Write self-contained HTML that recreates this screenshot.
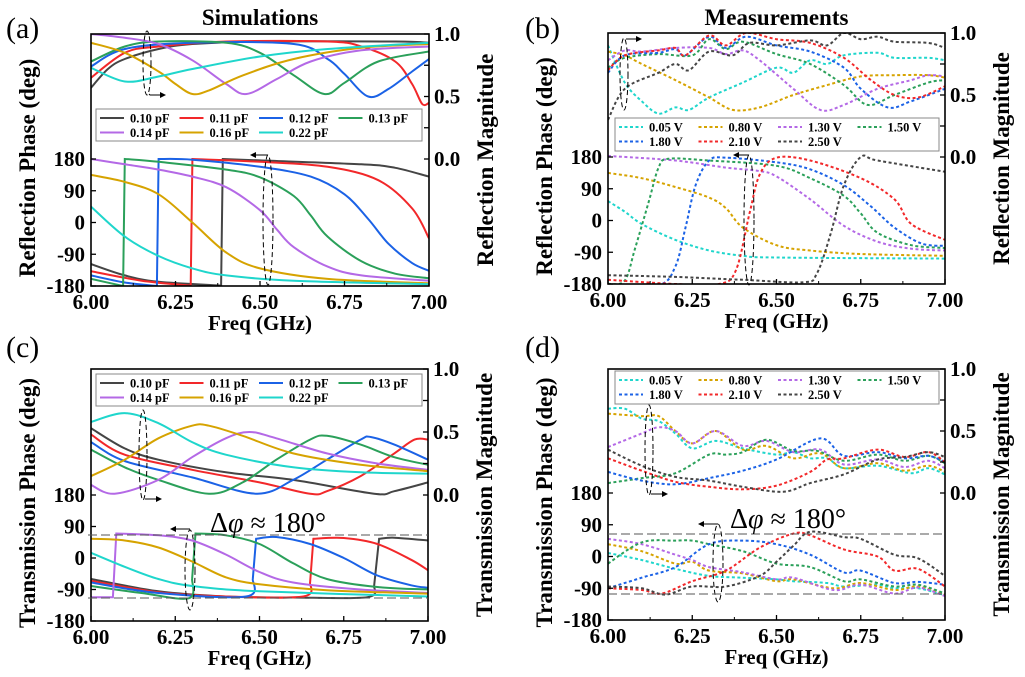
<!DOCTYPE html>
<html><head><meta charset="utf-8"><style>
html,body{margin:0;padding:0;background:#fff;}
svg{display:block;font-family:"Liberation Serif",serif;}
</style></head><body>
<svg id="fig" width="1025" height="677" viewBox="0 0 1025 677" xmlns="http://www.w3.org/2000/svg"></svg>
<script>
// ---- shared tick labels ----
const xTicks=[6.00,6.25,6.50,6.75,7.00];
const phaseTicks=[180,90,0,-90,-180];
const magTicks=[0.0,0.5,1.0];
const simLabels=["0.10 pF","0.11 pF","0.12 pF","0.13 pF","0.14 pF","0.16 pF","0.22 pF"];
const measLabels=["0.05 V","0.80 V","1.30 V","1.50 V","1.80 V","2.10 V","2.50 V"];
const simColors=["#454545","#f2282a","#1b62e6","#2ba05a","#b469e6","#d6a300","#1fd6cc"];
const measColors=["#1fd6cc","#d6a300","#b469e6","#2ba05a","#1b62e6","#f2282a","#454545"];

// ---- (a) simulated reflection: magnitude ----
const a_mag_010=[[6,.57],[6.05,.72],[6.1,.8],[6.2,.88],[6.3,.92],[6.5,.94],[6.9,.94],[7,.93]];
const a_mag_011=[[6,.65],[6.1,.85],[6.2,.9],[6.4,.94],[6.7,.94],[6.8,.9],[6.9,.78],[6.95,.6],[6.98,.44],[7,.45]];
const a_mag_012=[[6,.74],[6.1,.88],[6.3,.93],[6.6,.92],[6.7,.8],[6.75,.68],[6.82,.5],[6.88,.56],[6.95,.7],[7,.8]];
const a_mag_013=[[6,.78],[6.1,.9],[6.2,.94],[6.4,.93],[6.5,.85],[6.6,.67],[6.69,.52],[6.75,.61],[6.85,.78],[7,.86]];
const a_mag_014=[[6,1],[6.1,.97],[6.2,.92],[6.3,.79],[6.4,.6],[6.46,.52],[6.55,.64],[6.65,.78],[6.8,.87],[7,.9]];
const a_mag_016=[[6,.93],[6.1,.85],[6.2,.7],[6.25,.6],[6.3,.52],[6.35,.55],[6.45,.67],[6.6,.8],[6.8,.89],[7,.92]];
const a_mag_022=[[6,.73],[6.1,.62],[6.2,.66],[6.3,.72],[6.5,.82],[6.7,.88],[7,.93]];
// ---- (a) simulated reflection: phase ----
const a_ph_010=[[6,-118],[6.1,-150],[6.2,-168],[6.385,-179],[6.39,180],[6.5,176],[6.8,165],[6.9,155],[7,130]];
const a_ph_011=[[6,-138],[6.15,-165],[6.295,-179],[6.3,180],[6.5,172],[6.7,158],[6.85,120],[6.95,40],[7,-45]];
const a_ph_012=[[6,-150],[6.1,-170],[6.195,-180],[6.2,180],[6.3,178],[6.5,158],[6.65,130],[6.75,80],[6.82,10],[6.88,-60],[6.95,-115],[7,-137]];
const a_ph_013=[[6,-160],[6.095,-180],[6.1,180],[6.2,172],[6.4,150],[6.5,128],[6.6,75],[6.65,20],[6.7,-40],[6.8,-110],[6.9,-145],[7,-158]];
const a_ph_014=[[6,180],[6.1,165],[6.2,150],[6.3,130],[6.4,100],[6.5,35],[6.55,-20],[6.6,-70],[6.7,-125],[6.8,-150],[7,-165]];
const a_ph_016=[[6,135],[6.1,115],[6.2,80],[6.3,0],[6.4,-85],[6.5,-130],[6.7,-160],[7,-172]];
const a_ph_022=[[6,45],[6.1,-40],[6.2,-95],[6.3,-130],[6.4,-150],[6.6,-165],[7,-175]];

// ---- (b) measured reflection: magnitude ----
const b_mag_005=[[6,.9],[6.05,.6],[6.1,.45],[6.15,.35],[6.2,.4],[6.24,.38],[6.3,.48],[6.4,.6],[6.5,.72],[6.55,.68],[6.6,.78],[6.65,.75],[6.7,.82],[6.8,.84],[6.85,.8],[6.95,.8],[7,.78]];
const b_mag_080=[[6,.85],[6.05,.82],[6.1,.75],[6.2,.62],[6.3,.48],[6.37,.38],[6.45,.4],[6.55,.5],[6.65,.58],[6.75,.65],[6.85,.66],[6.95,.66],[7,.64]];
const b_mag_130=[[6,.78],[6.05,.86],[6.1,.85],[6.2,.88],[6.3,.88],[6.35,.83],[6.4,.86],[6.45,.78],[6.55,.55],[6.63,.38],[6.7,.42],[6.8,.55],[6.9,.62],[6.95,.66],[7,.65]];
const b_mag_150=[[6,.72],[6.05,.8],[6.15,.83],[6.25,.82],[6.3,.95],[6.35,.87],[6.4,.93],[6.5,.83],[6.6,.75],[6.7,.58],[6.77,.42],[6.85,.5],[6.95,.6],[7,.62]];
const b_mag_180=[[6,.68],[6.05,.82],[6.15,.84],[6.2,.87],[6.23,.82],[6.3,.97],[6.35,.88],[6.41,.97],[6.5,.9],[6.6,.85],[6.7,.72],[6.75,.55],[6.83,.4],[6.9,.45],[7,.55]];
const b_mag_210=[[6,.7],[6.05,.82],[6.15,.86],[6.2,.88],[6.23,.82],[6.3,.98],[6.35,.9],[6.41,1],[6.5,.95],[6.6,.92],[6.7,.8],[6.78,.62],[6.85,.5],[6.92,.48],[7,.57]];
const b_mag_250=[[6,.3],[6.05,.55],[6.15,.68],[6.2,.75],[6.24,.7],[6.3,.85],[6.37,.82],[6.42,.92],[6.5,.9],[6.6,.94],[6.65,.9],[6.7,1],[6.75,.95],[6.8,.97],[6.85,.93],[6.95,.92],[7,.88]];
// ---- (b) measured reflection: phase ----
const b_ph_005=[[6,55],[6.05,25],[6.1,-10],[6.2,-55],[6.3,-85],[6.4,-100],[6.5,-105],[7,-108]];
const b_ph_080=[[6,135],[6.1,120],[6.2,95],[6.3,65],[6.35,35],[6.4,-20],[6.5,-70],[6.6,-85],[6.75,-95],[7,-100]];
const b_ph_130=[[6,183],[6.2,170],[6.35,150],[6.45,140],[6.5,125],[6.6,60],[6.7,-15],[6.8,-60],[6.9,-80],[7,-85]];
const b_ph_150=[[6,-180],[6.05,-170],[6.08,-80],[6.12,50],[6.15,150],[6.18,175],[6.3,170],[6.5,155],[6.6,120],[6.7,70],[6.75,20],[6.8,-35],[6.9,-70],[7,-78]];
const b_ph_180=[[6,-183],[6.15,-183],[6.2,-130],[6.23,-20],[6.26,100],[6.3,170],[6.35,178],[6.5,165],[6.6,145],[6.7,100],[6.78,40],[6.85,-20],[6.93,-65],[7,-72]];
const b_ph_210=[[6,-168],[6.2,-180],[6.33,-180],[6.38,-140],[6.42,20],[6.45,130],[6.5,178],[6.6,170],[6.75,120],[6.85,60],[6.9,-10],[7,-55]];
const b_ph_250=[[6,-155],[6.2,-160],[6.4,-168],[6.58,-175],[6.62,-150],[6.66,-40],[6.7,100],[6.75,180],[6.8,170],[7,138]];

// ---- (c) simulated transmission: magnitude ----
const c_mag_010=[[6,.53],[6.1,.37],[6.2,.28],[6.4,.18],[6.6,.12],[6.84,.01],[6.9,.03],[7,.1]];
const c_mag_011=[[6,.48],[6.1,.32],[6.3,.2],[6.5,.1],[6.65,.01],[6.7,.03],[6.8,.15],[6.9,.33],[6.96,.44],[7,.44]];
const c_mag_012=[[6,.42],[6.1,.27],[6.3,.14],[6.49,.01],[6.6,.12],[6.7,.28],[6.8,.44],[6.83,.46],[6.9,.4],[7,.28]];
const c_mag_013=[[6,.36],[6.1,.22],[6.2,.12],[6.35,.01],[6.45,.1],[6.55,.28],[6.65,.44],[6.7,.47],[6.8,.4],[6.9,.3],[7,.24]];
const c_mag_014=[[6,.08],[6.07,.01],[6.2,.12],[6.3,.3],[6.4,.45],[6.47,.5],[6.55,.45],[6.7,.33],[6.85,.25],[7,.2]];
const c_mag_016=[[6,.15],[6.1,.28],[6.2,.45],[6.3,.55],[6.35,.55],[6.45,.47],[6.6,.33],[6.8,.24],[7,.19]];
const c_mag_022=[[6,.58],[6.1,.65],[6.2,.57],[6.3,.42],[6.4,.32],[6.6,.22],[6.8,.18],[7,.17]];
// ---- (c) simulated transmission: phase ----
const c_ph_010=[[6,-60],[6.2,-95],[6.4,-110],[6.6,-113],[6.82,-112],[6.84,-80],[6.855,55],[6.9,58],[7,50]];
const c_ph_011=[[6,-65],[6.2,-98],[6.4,-110],[6.63,-110],[6.65,-70],[6.66,55],[6.75,57],[6.85,40],[6.95,-5],[7,-35]];
const c_ph_012=[[6,-70],[6.2,-100],[6.46,-110],[6.48,-60],[6.49,55],[6.55,60],[6.65,40],[6.75,0],[6.85,-50],[6.95,-78],[7,-85]];
const c_ph_013=[[6,-80],[6.15,-100],[6.29,-115],[6.3,-60],[6.31,70],[6.4,65],[6.5,40],[6.6,-15],[6.7,-60],[6.85,-83],[7,-90]];
const c_ph_014=[[6,-112],[6.065,-112],[6.075,70],[6.2,65],[6.3,50],[6.4,10],[6.5,-40],[6.6,-70],[6.8,-90],[7,-100]];
const c_ph_016=[[6,55],[6.1,50],[6.2,30],[6.3,-10],[6.4,-55],[6.5,-75],[6.7,-92],[7,-102]];
const c_ph_022=[[6,15],[6.1,-25],[6.2,-60],[6.3,-80],[6.5,-95],[7,-110]];

// ---- (d) measured transmission: magnitude ----
const d_mag_005=[[6,.68],[6.05,.68],[6.1,.6],[6.15,.58],[6.2,.48],[6.25,.36],[6.32,.42],[6.4,.36],[6.5,.31],[6.55,.33],[6.6,.28],[6.65,.28],[6.7,.2],[6.8,.22],[6.9,.16],[6.95,.2],[7,.15]];
const d_mag_080=[[6,.64],[6.1,.62],[6.15,.62],[6.2,.5],[6.25,.4],[6.32,.5],[6.4,.35],[6.47,.38],[6.55,.28],[6.63,.32],[6.7,.2],[6.8,.24],[6.88,.18],[6.95,.22],[7,.17]];
const d_mag_130=[[6,.37],[6.1,.48],[6.15,.53],[6.2,.5],[6.25,.4],[6.32,.5],[6.4,.38],[6.47,.42],[6.55,.33],[6.63,.35],[6.7,.23],[6.8,.27],[6.88,.21],[6.95,.26],[7,.2]];
const d_mag_150=[[6,.08],[6.1,.12],[6.2,.16],[6.3,.31],[6.35,.31],[6.4,.33],[6.47,.43],[6.55,.34],[6.62,.34],[6.7,.26],[6.8,.31],[6.88,.26],[6.95,.3],[7,.24]];
const d_mag_180=[[6,.17],[6.1,.1],[6.2,.07],[6.3,.12],[6.4,.18],[6.5,.27],[6.63,.44],[6.7,.3],[6.8,.33],[6.88,.28],[6.95,.3],[7,.25]];
const d_mag_210=[[6,.28],[6.1,.18],[6.2,.09],[6.3,.05],[6.4,.03],[6.5,.06],[6.6,.17],[6.65,.27],[6.7,.28],[6.8,.35],[6.88,.29],[6.95,.33],[7,.25]];
const d_mag_250=[[6,.35],[6.1,.22],[6.2,.13],[6.3,.1],[6.4,.05],[6.52,.01],[6.6,.08],[6.7,.15],[6.8,.27],[6.88,.29],[6.95,.33],[7,.29]];
// ---- (d) measured transmission: phase ----
const d_ph_005=[[6,10],[6.1,-10],[6.2,-35],[6.3,-55],[6.4,-60],[6.5,-65],[6.55,-70],[6.65,-75],[6.7,-85],[6.8,-80],[6.85,-90],[6.92,-90],[7,-110]];
const d_ph_080=[[6,35],[6.1,15],[6.2,-20],[6.25,-15],[6.3,-40],[6.4,-48],[6.5,-70],[6.55,-65],[6.67,-90],[6.75,-75],[6.85,-95],[6.92,-85],[7,-108]];
const d_ph_130=[[6,50],[6.1,35],[6.2,5],[6.25,-10],[6.3,-30],[6.4,-45],[6.5,-65],[6.55,-60],[6.67,-95],[6.75,-80],[6.85,-105],[6.92,-88],[7,-112]];
const d_ph_150=[[6,-20],[6.1,40],[6.2,45],[6.25,45],[6.3,35],[6.4,15],[6.5,-20],[6.6,-30],[6.7,-70],[6.75,-65],[6.85,-85],[6.92,-80],[7,-105]];
const d_ph_180=[[6,-90],[6.1,-60],[6.2,-30],[6.3,35],[6.4,45],[6.5,35],[6.6,5],[6.7,-45],[6.75,-40],[6.85,-75],[6.92,-72],[7,-80]];
const d_ph_210=[[6,-90],[6.1,-95],[6.16,-105],[6.25,-70],[6.35,-40],[6.45,25],[6.55,65],[6.6,60],[6.7,20],[6.8,0],[6.85,-40],[6.92,-35],[7,-85]];
const d_ph_250=[[6,-85],[6.1,-90],[6.17,-108],[6.25,-85],[6.35,-85],[6.45,-55],[6.5,-15],[6.55,30],[6.6,70],[6.7,55],[6.75,50],[6.85,5],[6.92,-5],[7,-55]];

const NS="http://www.w3.org/2000/svg";
const svg=document.getElementById('fig');
function mk(tag,attrs,parent,text){const e=document.createElementNS(NS,tag);for(const k in attrs)e.setAttribute(k,attrs[k]);if(text!==undefined)e.textContent=text;(parent||svg).appendChild(e);return e;}

const panels=[
 {id:'a',L:91,R:429,T:34,B:286,y180:159,letter:'(a)',lx:6,ly:38,title:'Simulations',ytitle:'Reflection Phase (deg)',rtitle:'Reflection Magnitude',dash:null,colors:simColors,labels:simLabels,
  mag:[a_mag_010,a_mag_011,a_mag_012,a_mag_013,a_mag_014,a_mag_016,a_mag_022],ph:[a_ph_010,a_ph_011,a_ph_012,a_ph_013,a_ph_014,a_ph_016,a_ph_022],
  leg:{x:96,y:109,w:326,h:32}},
 {id:'b',L:608,R:945,T:33,B:284,y180:157,letter:'(b)',lx:525,ly:38,title:'Measurements',ytitle:'Reflection Phase (deg)',rtitle:'Reflection Magnitude',dash:'3,2.5',colors:measColors,labels:measLabels,
  mag:[b_mag_005,b_mag_080,b_mag_130,b_mag_150,b_mag_180,b_mag_210,b_mag_250],ph:[b_ph_005,b_ph_080,b_ph_130,b_ph_150,b_ph_180,b_ph_210,b_ph_250],
  leg:{x:615,y:118,w:324,h:33}},
 {id:'c',L:91,R:428,T:369,B:621,y180:495,letter:'(c)',lx:6,ly:357,title:null,ytitle:'Transmission Phase (deg)',rtitle:'Transmission Magnitude',dash:null,colors:simColors,labels:simLabels,
  mag:[c_mag_010,c_mag_011,c_mag_012,c_mag_013,c_mag_014,c_mag_016,c_mag_022],ph:[c_ph_010,c_ph_011,c_ph_012,c_ph_013,c_ph_014,c_ph_016,c_ph_022],
  leg:{x:96,y:374,w:326,h:32}},
 {id:'d',L:608,R:945,T:369,B:620,y180:493,letter:'(d)',lx:525,ly:357,title:null,ytitle:'Transmission Phase (deg)',rtitle:'Transmission Magnitude',dash:'3,2.5',colors:measColors,labels:measLabels,
  mag:[d_mag_005,d_mag_080,d_mag_130,d_mag_150,d_mag_180,d_mag_210,d_mag_250],ph:[d_ph_005,d_ph_080,d_ph_130,d_ph_150,d_ph_180,d_ph_210,d_ph_250],
  leg:{x:615,y:371,w:324,h:33}}
];

function smoothSeg(pts,start){
  let d=(start?'M':'L')+pts[0][0].toFixed(1)+','+pts[0][1].toFixed(1);
  for(let i=0;i<pts.length-1;i++){
    const p0=pts[Math.max(0,i-1)],p1=pts[i],p2=pts[i+1],p3=pts[Math.min(pts.length-1,i+2)];
    const c1=[p1[0]+(p2[0]-p0[0])/6,p1[1]+(p2[1]-p0[1])/6],c2=[p2[0]-(p3[0]-p1[0])/6,p2[1]-(p3[1]-p1[1])/6];
    d+=' C'+c1[0].toFixed(1)+','+c1[1].toFixed(1)+' '+c2[0].toFixed(1)+','+c2[1].toFixed(1)+' '+p2[0].toFixed(1)+','+p2[1].toFixed(1);
  }
  return d;
}
function smoothPath(pts){
  const segs=[[pts[0]]];
  for(let i=1;i<pts.length;i++){
    const dx=pts[i][0]-pts[i-1][0],dy=Math.abs(pts[i][1]-pts[i-1][1]);
    if(dx<8&&dy>40)segs.push([pts[i]]);else segs[segs.length-1].push(pts[i]);
  }
  return segs.map((s,k)=>smoothSeg(s,k===0)).join(' ');
}

panels.forEach(P=>{
  const g=mk('g',{});
  const xS=f=>P.L+(f-6)*(P.R-P.L);
  const phS=v=>P.y180+(180-v)*(P.B-P.y180)/360;
  const magS=m=>P.y180-m*(P.y180-P.T);
  mk('clipPath',{id:'clip-'+P.id},g);
  mk('rect',{x:P.L,y:P.T,width:P.R-P.L,height:P.B-P.T},g.lastChild);
  mk('text',{x:P.lx,y:P.ly,'font-size':30,},g,P.letter);
  if(P.title) mk('text',{x:(P.L+P.R)/2,y:25,'font-size':23,'font-weight':'bold','text-anchor':'middle',},g,P.title);
  const sg=mk('g',{'clip-path':'url(#clip-'+P.id+')',},g);
  P.mag.forEach((s,i)=>{
    const p=mk('path',{d:smoothPath(s.map(q=>[xS(q[0]),magS(q[1])])),fill:'none',stroke:P.colors[i],'stroke-width':2},sg);
    
    
    if(P.dash)p.setAttribute('stroke-dasharray',P.dash);
  });
  P.ph.forEach((s,i)=>{
    const p=mk('path',{d:smoothPath(s.map(q=>[xS(q[0]),phS(q[1])])),fill:'none',stroke:P.colors[i],'stroke-width':2},sg);
    
    
    if(P.dash)p.setAttribute('stroke-dasharray',P.dash);
  });
  mk('rect',{x:P.L,y:P.T,width:P.R-P.L,height:P.B-P.T,fill:'none',stroke:'#000','stroke-width':1.6,},g);
  xTicks.forEach((t,k)=>{
    mk('line',{x1:xS(t),x2:xS(t),y1:P.B,y2:P.B-5,stroke:'#000','stroke-width':1.3},g);
    if(k<xTicks.length-1) mk('line',{x1:xS(t+0.125),x2:xS(t+0.125),y1:P.B,y2:P.B-3,stroke:'#000','stroke-width':1},g);
    mk('text',{x:xS(t),y:P.B+23,'font-size':21,'font-weight':'bold','text-anchor':'middle',},g,t.toFixed(2));
  });
  mk('text',{x:(P.L+P.R)/2,y:P.B+44,'font-size':21,'font-weight':'bold','text-anchor':'middle',},g,'Freq (GHz)');
  phaseTicks.forEach(t=>{
    mk('line',{x1:P.L,x2:P.L+5,y1:phS(t),y2:phS(t),stroke:'#000','stroke-width':1.3},g);
    mk('text',{x:P.L-6,y:phS(t)+7,'font-size':21,'font-weight':'bold','text-anchor':'end',},g,String(t));
  });
  [0,0.25,0.5,0.75,1].forEach(t=>mk('line',{x1:P.R,x2:P.R-5,y1:magS(t),y2:magS(t),stroke:'#000','stroke-width':1.3},g));
  magTicks.forEach(t=>mk('text',{x:P.R+5,y:magS(t)+7,'font-size':21,'font-weight':'bold',},g,t.toFixed(1)));
  const cy=(P.T+P.B)/2+8;
  mk('text',{x:0,y:0,transform:'translate('+(P.L-56)+','+cy+') rotate(-90)','font-size':23,'font-weight':'bold','text-anchor':'middle',},g,P.ytitle);
  mk('text',{x:0,y:0,transform:'translate('+(P.R+64)+','+(cy-8)+') rotate(-90)','font-size':23,'font-weight':'bold','text-anchor':'middle',},g,P.rtitle);
  const lg=mk('g',{},g);
  mk('rect',{x:P.leg.x,y:P.leg.y,width:P.leg.w,height:P.leg.h,fill:'#fff',stroke:'#888','stroke-width':1},lg);
  P.labels.forEach((lab,i)=>{
    const col=i%4,row=Math.floor(i/4);
    const lx=P.leg.x+4+col*79.5,ly=P.leg.y+9+row*14.5;
    const ln=mk('line',{x1:lx,x2:lx+24,y1:ly,y2:ly,stroke:P.colors[i],'stroke-width':2},lg);
    if(P.dash)ln.setAttribute('stroke-dasharray',P.dash);
    const tx=mk('text',{x:lx+30,y:ly+4.5,'font-size':12.5,'font-weight':'bold'},lg,lab);
    
    
  });
});

function ell(cx,cy,rx,ry){mk('ellipse',{cx,cy,rx,ry,fill:'none',stroke:'#000','stroke-width':1,'stroke-dasharray':'5,3',});}
// (a)
ell(147,63,4,32); mk('path',{d:'M149,94 L150,95 L160,95',fill:'none',stroke:'#000'}); mk('path',{d:'M166,95 l-6,-3 l0,6z',fill:'#000'});
ell(268,220,5,65); mk('path',{d:'M268,155 L254,155',fill:'none',stroke:'#000'}); mk('path',{d:'M250,155 l6,-3 l0,6z',fill:'#000'});
// (b)
ell(624,74,4,36); mk('path',{d:'M626,39 L636,39',fill:'none',stroke:'#000'}); mk('path',{d:'M642,39 l-6,-3 l0,6z',fill:'#000'});
ell(749,220,5,65); mk('path',{d:'M749,155 L737,155',fill:'none',stroke:'#000'}); mk('path',{d:'M733,155 l6,-3 l0,6z',fill:'#000'});
// (c)
ell(143,455,4,45); mk('path',{d:'M145,499 L156,499',fill:'none',stroke:'#000'}); mk('path',{d:'M162,499 l-6,-3 l0,6z',fill:'#000'});
ell(190,570,5,40); mk('path',{d:'M190,529 L174,529',fill:'none',stroke:'#000'}); mk('path',{d:'M170,529 l6,-3 l0,6z',fill:'#000'});
mk('line',{x1:88,x2:428,y1:535,y2:535,stroke:'#555','stroke-dasharray':'9,4','stroke-width':1,});
mk('line',{x1:88,x2:428,y1:598,y2:598,stroke:'#555','stroke-dasharray':'9,4','stroke-width':1,});
const t1=mk('text',{x:210,y:532,'font-size':28,},svg,'Δ');
mk('tspan',{'font-style':'italic'},t1,'φ'); mk('tspan',{},t1,' ≈ 180°');
// (d)
ell(649,450,4,45); mk('path',{d:'M651,494 L662,494',fill:'none',stroke:'#000'}); mk('path',{d:'M668,494 l-6,-3 l0,6z',fill:'#000'});
ell(718,563,5,39); mk('path',{d:'M718,524 L702,524',fill:'none',stroke:'#000'}); mk('path',{d:'M698,524 l6,-3 l0,6z',fill:'#000'});
mk('line',{x1:608,x2:945,y1:534,y2:534,stroke:'#555','stroke-dasharray':'9,4','stroke-width':1,});
mk('line',{x1:608,x2:945,y1:594,y2:594,stroke:'#555','stroke-dasharray':'9,4','stroke-width':1,});
const t2=mk('text',{x:730,y:528,'font-size':28,},svg,'Δ');
mk('tspan',{'font-style':'italic'},t2,'φ'); mk('tspan',{},t2,' ≈ 180°');
</script>
</body></html>
